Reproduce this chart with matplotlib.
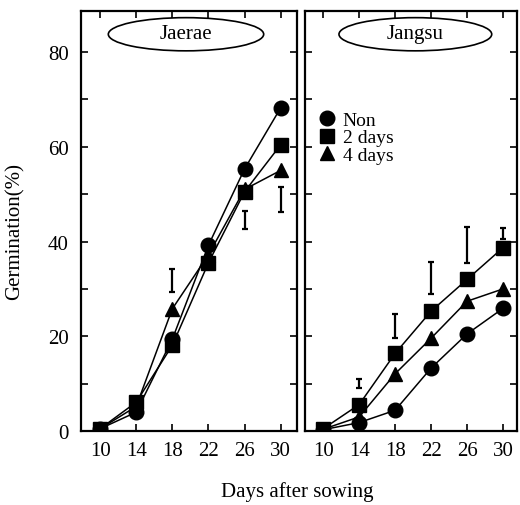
import matplotlib
matplotlib.use('Agg')
from matplotlib import pyplot as plt
from matplotlib.patches import Ellipse
from matplotlib.lines import Line2D
import numpy as np

# data
days = [10, 14, 18, 22, 26, 30]

jaerae_non = [0.5, 4.0, 19.4, 39.2, 55.3, 68.2]
jaerae_2d = [0.5, 6.1, 18.1, 35.5, 50.5, 60.4]
jaerae_4d = [0.5, 5.2, 25.8, 37.2, 51.0, 55.0]
jaerae_bar_x = [18, 26, 30]
jaerae_bar_lo = [29.3, 42.6, 46.3]
jaerae_bar_hi = [34.2, 46.4, 51.4]

jangsu_non = [0.3, 1.8, 4.4, 13.3, 20.5, 25.9]
jangsu_2d = [0.5, 5.6, 16.4, 25.3, 32.0, 38.7]
jangsu_4d = [0.4, 3.0, 12.1, 19.6, 27.4, 30.0]
jangsu_bar_x = [14, 18, 22, 26, 30]
jangsu_bar_lo = [9.2, 19.6, 28.9, 35.5, 40.6]
jangsu_bar_hi = [11.1, 24.7, 35.6, 43.1, 42.8]

labels = ['Non', '2 days', '4 days']
markers = ['o', 's', '^']
msizes = [10.5, 9.5, 10.5]

plt.rcParams['font.family'] = ['Liberation Serif', 'DejaVu Serif']
plt.rcParams['font.size'] = 15

fig = plt.figure(figsize=(5.2, 5.06), dpi=100)
ax1 = fig.add_axes([0.156, 0.146, 0.415, 0.830])
ax2 = fig.add_axes([0.587, 0.146, 0.408, 0.830])


def panel(ax, series, bx, blo, bhi, name, ecx):
    for ys, m, ms in zip(series, markers, msizes):
        ax.plot(days, ys, color='black', lw=1.1, marker=m, ms=ms)
    mid = [(a + b) / 2 for a, b in zip(blo, bhi)]
    half = [(b - a) / 2 for a, b in zip(blo, bhi)]
    ax.errorbar(bx, mid, yerr=half, fmt='none', ecolor='black',
                elinewidth=1.6, capsize=2.5, capthick=1.6)
    ax.set_ylim(0, 88.6)
    ax.set_yticks([0, 20, 40, 60, 80])
    ax.set_yticks([10, 30, 50, 70], minor=True)
    ax.set_xticks(days)
    ax.tick_params(direction='in', which='both', top=True, right=True,
                   length=5, width=1.2, labelsize=15)
    ax.tick_params(axis='y', pad=9)
    ax.tick_params(axis='x', pad=7)
    for s in ax.spines.values():
        s.set_linewidth(1.6)
    ell = Ellipse((ecx, 0.945), 0.72, 0.079, transform=ax.transAxes,
                  facecolor='white', edgecolor='black', lw=1.2, zorder=5)
    ax.add_patch(ell)
    ax.text(ecx, 0.947, name, transform=ax.transAxes, ha='center',
            va='center', fontsize=15, zorder=6)


panel(ax1, [jaerae_non, jaerae_2d, jaerae_4d], jaerae_bar_x,
      jaerae_bar_lo, jaerae_bar_hi, 'Jaerae', 0.486)
panel(ax2, [jangsu_non, jangsu_2d, jangsu_4d], jangsu_bar_x,
      jangsu_bar_lo, jangsu_bar_hi, 'Jangsu', 0.519)
ax1.set_xlim(7.9, 31.8)
ax2.set_xlim(8.0, 31.6)
ax2.set_yticklabels([])

handles = [Line2D([], [], color='black', ls='none', marker=m, ms=ms)
           for m, ms in zip(markers, msizes)]
ax2.legend(handles, labels, loc='upper left', bbox_to_anchor=(0.02, 0.785),
           frameon=False, handlelength=0.85, handletextpad=0.35,
           labelspacing=0.0, borderpad=0, fontsize=14)

fig.text(15 / 520, 1 - 232 / 506, 'Germination(%)', rotation=90,
         ha='center', va='center', fontsize=15)
fig.text(297 / 520, 1 - 492 / 506, 'Days after sowing', ha='center',
         va='center', fontsize=15)

fig.savefig('out.png', dpi=100)
